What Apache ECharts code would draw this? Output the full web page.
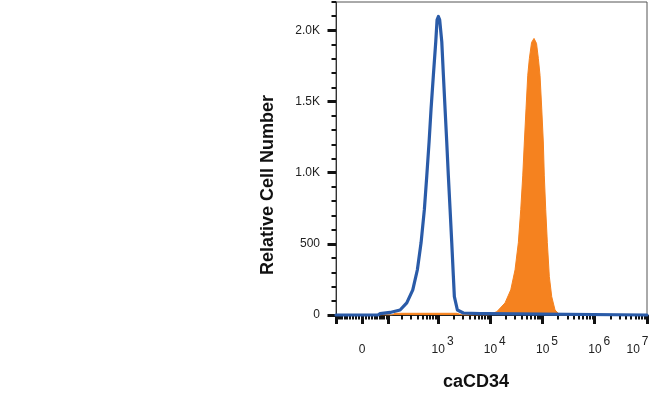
<!DOCTYPE html>
<html><head><meta charset="utf-8">
<script src="https://cdn.jsdelivr.net/npm/echarts@6/dist/echarts.min.js"></script>
<style>html,body{margin:0;padding:0;background:#fff}#c{width:650px;height:394px}</style>
</head><body><div id="c"></div>
<script>
// Histogram data: x = display position on the biexponential axis (in decades), y = cell count
const blueX = [1.046,1.85,1.89,2.081,2.273,2.401,2.516,2.604,2.675,2.738,2.784,2.828,2.866,2.910,2.956,2.981,3.006,3.031,3.071,3.102,3.134,3.166,3.197,3.230,3.262,3.293,3.312,3.370,3.484,3.804,3.938,3.976,7.0];
const blueY = [0,0,10,18,35,85,177,318,509,742,978,1216,1449,1685,1921,2075,2098,2075,1921,1685,1449,1216,978,742,509,271,129,35,14,10,10,0,0];
const orangeX = [1.046,2.12,2.177,3.364,3.46,3.957,4.124,4.282,4.392,4.474,4.537,4.583,4.621,4.652,4.684,4.717,4.748,4.790,4.837,4.885,4.920,4.952,4.985,5.015,5.034,5.061,5.092,5.130,5.176,5.239,5.335,7.0];
const orangeY = [0,0,12,12,0,0,23,85,177,318,509,742,978,1216,1449,1685,1803,1916,1944,1909,1803,1685,1449,1216,978,742,509,271,129,35,0,0];

// Axis definitions
const yMajorTicks = [0,500,1000,1500,2000];
const yTickLabels = ['0','500','1.0K','1.5K','2.0K'];
const xLabelIntensities = [0,1e3,1e4,1e5,1e6,1e7];
const xLabelExponents = ['', '3','4','5','6','7'];
const xMajorIntensities = [-100,0,100,1e3,1e4,1e5,1e6,1e7];
const xLinearMinor = [-90,-80,-70,-60,-50,-40,-30,-20,-10,10,20,30,40,50,60,70,80,90];
const xDecades = [2,3,4,5,6];
const xSubSteps = [2,3,4,5,6,7,8,9];

// biexponential (arcsinh) display transform of the axis
const P0 = 1.546, W = 35.2;
function biex(v){ return P0 + Math.asinh(v/(2*W))/Math.LN10; }

const xMinorIntensities = xLinearMinor.slice();
xDecades.forEach(d => xSubSteps.forEach(k => xMinorIntensities.push(k*Math.pow(10,d))));
const xMinorPos = xMinorIntensities.map(biex);
const xMajorPos = xMajorIntensities.map(biex);
const xLabelPos = xLabelIntensities.map(biex);

const FF = '"Liberation Sans", Arial, Helvetica, sans-serif';
const xMin = 1.046, xMax = 7.0, yMax = 2200;

const chart = echarts.init(document.getElementById('c'), null, {renderer:'canvas'});
const baseX = {type:'value', min:xMin, max:xMax, position:'bottom', splitLine:{show:false}};
const baseY = {type:'value', min:0, max:yMax, position:'left', splitLine:{show:false}};
chart.setOption({
  animation:false,
  backgroundColor:'#fff',
  grid:{left:336, top:2, right:3, bottom:79, show:true, borderColor:'#555', borderWidth:1,
        containLabel:false, outerBoundsMode:'none'},
  xAxis:[
    Object.assign({}, baseX, {
      name:'caCD34', nameLocation:'middle', nameGap:58,
      nameTextStyle:{fontFamily:FF, fontSize:18, fontWeight:'bold', color:'#111', padding:[0,31,0,0]},
      axisLine:{show:true, lineStyle:{color:'#222', width:1}},
      axisTick:{show:true, inside:false, customValues:xMinorPos, length:4.5, lineStyle:{color:'#111', width:2}},
      axisLabel:{show:true, customValues:xLabelPos, margin:21,
        formatter:function(v){
          let i = xLabelPos.findIndex(p => Math.abs(p-v) < 1e-6);
          if (i <= 0) return '{n|0}';
          if (i === xLabelPos.length-1) return '{n|10}{g|}{s|'+xLabelExponents[i]+'}{padR|}';
          return '{padL|}{n|10}{g|}{s|'+xLabelExponents[i]+'}';
        },
        rich:{
          n:{fontFamily:FF, fontSize:12, color:'#222', verticalAlign:'bottom', lineHeight:20},
          s:{fontFamily:FF, fontSize:12, color:'#222', verticalAlign:'top', lineHeight:20},
          g:{width:2},
          padL:{width:9},
          padR:{width:19}
        }
      }
    }),
    Object.assign({}, baseX, {
      axisLine:{show:false},
      axisTick:{show:true, inside:false, customValues:xMajorPos, length:9, lineStyle:{color:'#111', width:3}},
      axisLabel:{show:false}
    })
  ],
  yAxis:[
    Object.assign({}, baseY, {
      interval:100,
      name:'Relative Cell Number', nameLocation:'middle', nameGap:59,
      nameTextStyle:{fontFamily:FF, fontSize:18, fontWeight:'bold', color:'#111', padding:[0,53,0,0]},
      axisLine:{show:true, lineStyle:{color:'#333', width:1}},
      axisTick:{show:true, length:4.5, lineStyle:{color:'#111', width:2}},
      axisLabel:{show:true, customValues:yMajorTicks, margin:16, fontFamily:FF, fontSize:12, color:'#222',
        formatter:function(v){ const i = yMajorTicks.indexOf(v); return i>=0 ? yTickLabels[i] : ''; }}
    }),
    Object.assign({}, baseY, {
      axisLine:{show:false},
      axisTick:{show:true, customValues:yMajorTicks, length:8.5, lineStyle:{color:'#111', width:3}},
      axisLabel:{show:false}
    })
  ],
  series:[
    {type:'line', name:'caCD34', xAxisIndex:0, yAxisIndex:0, showSymbol:false, smooth:false,
     data:orangeX.map((x,i)=>[x, orangeY[i]]),
     lineStyle:{color:'#f5821f', width:1}, areaStyle:{color:'#f5821f', opacity:1}, z:2},
    {type:'line', name:'control', xAxisIndex:0, yAxisIndex:0, showSymbol:false, smooth:false, clip:false,
     data:blueX.map((x,i)=>[x, blueY[i]]),
     lineStyle:{color:'#2a5ba8', width:3.2, join:'round', cap:'round'}, z:3}
  ]
});
</script>
</body></html>
